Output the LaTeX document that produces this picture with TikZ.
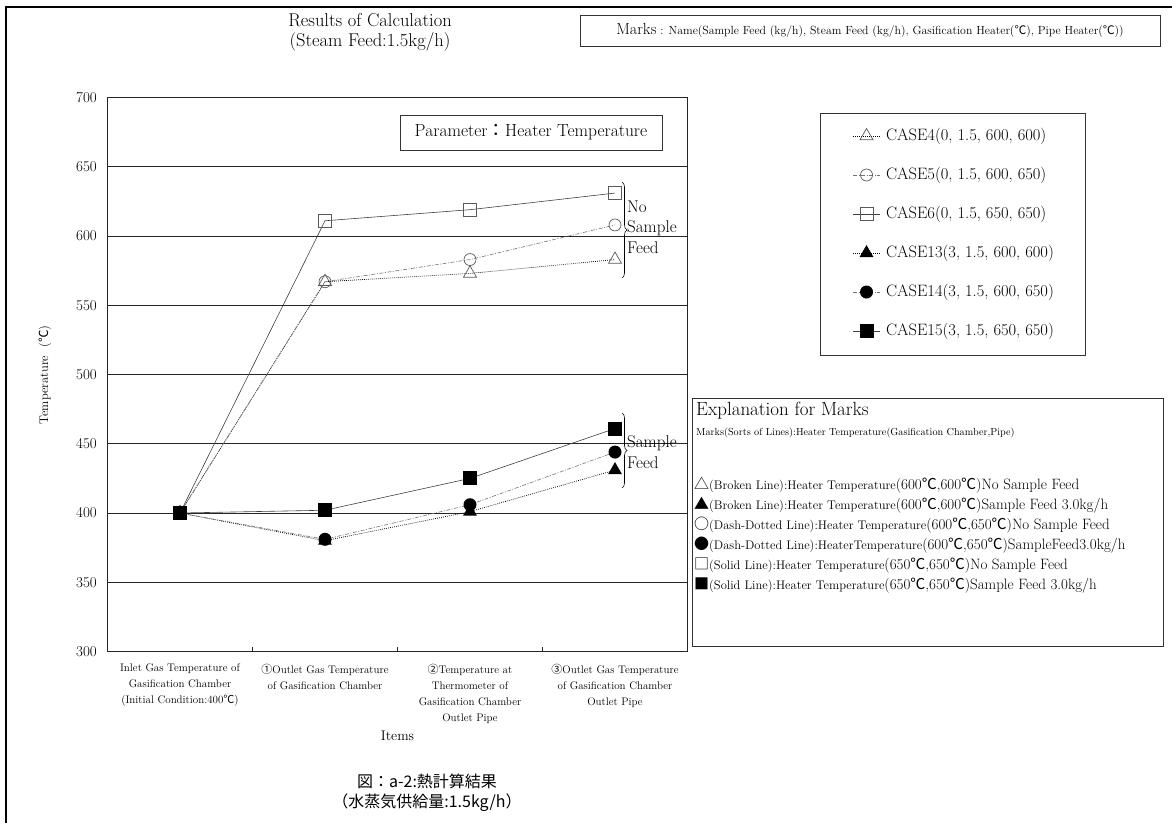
\documentclass[tikz,border=0pt]{standalone}
\usepackage{fontspec}
\newfontfamily\cjk{Noto Sans CJK JP}
\usetikzlibrary{shapes.geometric,decorations.pathreplacing}

\newcommand{\fsz}[1]{\fontsize{#1}{#1}\selectfont}
\newcommand{\degC}{{\cjk ℃}}

\begin{document}
\begin{tikzpicture}[
    x=1pt, y=-1pt,
    frame line/.style={draw=black, line width=1.1pt},
    grid line/.style={draw=black!85, line width=0.9pt},
    box node/.style={draw=black!80, line width=0.8pt, inner sep=0pt},
    ytick label/.style={font=\fsz{15}, anchor=east, inner sep=0pt},
    x label/.style={font=\fontsize{11}{16}\selectfont, align=center, anchor=north, inner sep=0pt},
    brace line/.style={decorate, decoration={brace, amplitude=5pt}, draw=black, line width=0.6pt},
    brace label/.style={font=\fontsize{17}{20.5}\selectfont, align=left, anchor=west, inner sep=0pt},
    legend text/.style={font=\fsz{16.5}, anchor=west, inner sep=0pt},
    expl text/.style={anchor=west, inner sep=0pt},
    dotline/.style={draw=black, line width=0.7pt, dash pattern=on 0.8pt off 1.2pt},
    dashdotline/.style={draw=black!55, line width=0.6pt, dash pattern=on 4pt off 1.5pt on 1pt off 1.5pt},
    solidline/.style={draw=black!75, line width=0.6pt},
    otri/.style={regular polygon, regular polygon sides=3, minimum size=15pt, inner sep=0pt, draw=black!65, line width=0.7pt},
    ocirc/.style={circle, minimum size=12pt, inner sep=0pt, draw=black!65, line width=0.7pt},
    osq/.style={rectangle, minimum size=13pt, inner sep=0pt, draw=black!65, line width=0.7pt},
    ftri/.style={regular polygon, regular polygon sides=3, minimum size=16pt, inner sep=0pt, fill=black},
    fcirc/.style={circle, minimum size=13pt, inner sep=0pt, fill=black},
    fsq/.style={rectangle, minimum size=14pt, inner sep=0pt, fill=black}
]

\useasboundingbox (0,0) rectangle (1172,823);

%================PAGE FRAME AND HEADINGS================
\draw[frame line] (6,823) -- (6,7) -- (1172,7);

\node[font=\fontsize{18.5}{20}\selectfont, align=center] (title) at (370,32)
    {Results of Calculation\\(Steam Feed:1.5kg/h)};
\node[box node, minimum width=580pt, minimum height=31pt] (marksbox) at (870,30.5)
    {{\fsz{16}Marks}\fsz{11.8} : Name(Sample Feed (kg/h), Steam Feed (kg/h), Gasification Heater(\degC), Pipe Heater(\degC))};

%================PLOT AREA================
% one unit across = one item, one unit up = 1 degree
\begin{scope}[shift={(107.5,1067)}, x=145pt, y=1.385pt]

    % --- 1. Grid and frame ---
    \foreach \v in {350,400,...,650}
        \draw[grid line] (0,\v) -- (4,\v);
    \draw[grid line] (0,300) rectangle (4,700);
    \foreach \c in {1,2,3}
        \draw[grid line] (\c,300) -- (\c,303.5);
    \foreach \v in {300,350,...,700}
        \node[ytick label] (yl\v) at (-0.072,\v) {\v};

    % --- 2. Item labels ---
    \node[x label, yshift=-12pt] (xl1) at (0.5,300)
        {Inlet Gas Temperature of\\Gasification Chamber\\(Initial Condition:400\degC)};
    \node[x label, yshift=-12pt] (xl2) at (1.5,300)
        {{\cjk ①}Outlet Gas Temperature\\of Gasification Chamber};
    \node[x label, yshift=-12pt] (xl3) at (2.5,300)
        {{\cjk ②}Temperature at\\Thermometer of\\Gasification Chamber\\Outlet Pipe};
    \node[x label, yshift=-12pt] (xl4) at (3.5,300)
        {{\cjk ③}Outlet Gas Temperature\\of Gasification Chamber\\Outlet Pipe};
    \node[font=\fsz{14}, yshift=-84pt] (xtitle) at (2,300) {Items};

    % --- 3. Data points ---
    \foreach \cs/\vb/\vc/\vd in {c4/567/573/583, c5/567/583/608, c6/611/619/631,
                                 c13/380/401/431, c14/381/406/444, c15/402/425/461}{
        \coordinate (\cs-1) at (0.5,400);
        \coordinate (\cs-2) at (1.5,\vb);
        \coordinate (\cs-3) at (2.5,\vc);
        \coordinate (\cs-4) at (3.5,\vd);
    }

    % --- 4. Lines, then marks on top ---
    \foreach \cs/\ln in {c4/dotline, c5/dashdotline, c6/solidline,
                         c13/dotline, c14/dashdotline, c15/solidline}
        \draw[\ln] (\cs-1) -- (\cs-2) -- (\cs-3) -- (\cs-4);
    \foreach \cs/\mk in {c4/otri, c5/ocirc, c6/osq, c13/ftri, c14/fcirc, c15/fsq}
        \foreach \k in {1,...,4}
            \node[\mk] (m\cs-\k) at (\cs-\k) {};
\end{scope}

\node[font=\fsz{12.5}, rotate=90] (ylabel) at (45,375) {Temperature\ \ (\degC)};

\node[box node, minimum width=262pt, minimum height=35pt, font=\fsz{17.5}] (parambox) at (531,132.5)
    {Parameter{\cjk ：}Heater Temperature};

% braces for the two groups
\draw[brace line] (622,182) -- (622,278);
\node[brace label] (nsflabel) at (627,227) {No\\Sample\\Feed};
\draw[brace line] (622,413) -- (622,488);
\node[brace label] (sflabel) at (627,452) {Sample\\Feed};

%================LEGEND================
\node[box node, anchor=north west, minimum width=265pt, minimum height=242pt] (legendbox) at (820,113) {};
\foreach \mk/\ln/\txt [count=\r] in {otri/dotline/{CASE4(0, 1.5, 600, 600)},
                                      ocirc/dashdotline/{CASE5(0, 1.5, 600, 650)},
                                      osq/solidline/{CASE6(0, 1.5, 650, 650)},
                                      ftri/dotline/{CASE13(3, 1.5, 600, 600)},
                                      fcirc/dashdotline/{CASE14(3, 1.5, 600, 650)},
                                      fsq/solidline/{CASE15(3, 1.5, 650, 650)}}{
    \pgfmathsetmacro{\yRow}{136 + 39*(\r-1)}
    \coordinate (lg\r a) at (853,\yRow);
    \coordinate (lg\r b) at (880,\yRow);
    \draw[\ln] (lg\r a) -- (lg\r b);
    \node[\mk] (lgm\r) at (866.5,\yRow) {};
    \node[legend text] (lgt\r) at (886,\yRow) {\txt};
}

%================EXPLANATION================
\node[box node, anchor=north west, minimum width=471pt, minimum height=248pt] (explbox) at (692,398) {};
\node[expl text, font=\fsz{19}] (expltitle) at (696,411) {Explanation for Marks};
\node[expl text, font=\fsz{10.2}] (explsub) at (696,433)
    {Marks(Sorts of Lines):Heater Temperature(Gasification Chamber,Pipe)};
\foreach \sym/\kind/\spec [count=\r] in {
    △/{(Broken Line):Heater Temperature}/{(600\degC,600\degC)No Sample Feed},
    ▲/{(Broken Line):Heater Temperature}/{(600\degC,600\degC)Sample Feed 3.0kg/h},
    ○/{(Dash-Dotted Line):Heater Temperature}/{(600\degC,650\degC)No Sample Feed},
    ●/{(Dash-Dotted Line):HeaterTemperature}/{(600\degC,650\degC)SampleFeed3.0kg/h},
    □/{(Solid Line):Heater Temperature}/{(650\degC,650\degC)No Sample Feed},
    ■/{(Solid Line):Heater Temperature}/{(650\degC,650\degC)Sample Feed 3.0kg/h}}{
    \pgfmathsetmacro{\yRow}{485 + 20.2*(\r-1)}
    \node[expl text] (exr\r) at (694,\yRow) {{\cjk\fsz{15}\sym}{\fsz{12.5}\kind}{\fsz{15}\spec}};
}

%================CAPTION================
\node[font=\cjk\fontsize{16}{20}\selectfont, align=center] (caption) at (427,793)
    {図：a-2:熱計算結果\\（水蒸気供給量:1.5kg/h）};

\end{tikzpicture}
\end{document}
